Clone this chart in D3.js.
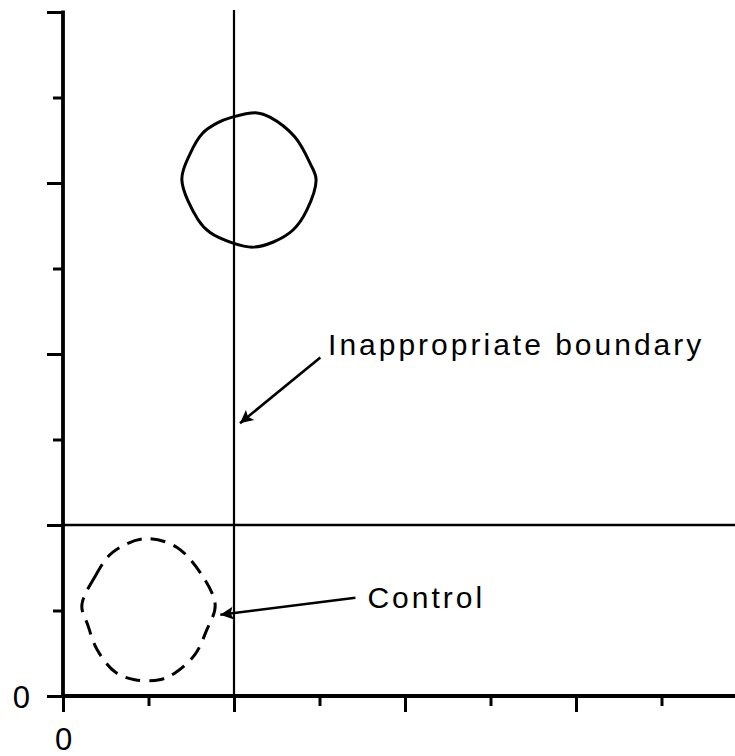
<!DOCTYPE html>
<html>
<head>
<meta charset="utf-8">
<script src="https://cdn.jsdelivr.net/npm/d3@7"></script>
<style>
  body { margin: 0; background: #fff; }
  svg { display: block; }
</style>
</head>
<body>
<svg id="chart" width="735" height="756"></svg>
<script>
// axis ticks (data units), every other one is a long tick
const xTicks = [0, 1, 2, 3, 4, 5, 6, 7];
const yTicks = [0, 1, 2, 3, 4, 5, 6, 7, 8];
const tickLabels = ["0"];

// boundary lines
const boundaryX = 2;
const boundaryY = 2;

// upper (solid) group outline
const upperX = [1.39, 1.49, 1.63, 1.80, 1.98, 2.27, 2.42, 2.71, 2.89, 2.96, 2.85, 2.69, 2.46, 2.22, 1.98, 1.72, 1.58];
const upperY = [6.04, 6.35, 6.58, 6.70, 6.77, 6.82, 6.77, 6.54, 6.23, 6.04, 5.68, 5.45, 5.31, 5.25, 5.30, 5.42, 5.57];

// control (dashed) outline
const controlX = [0.22, 0.37, 0.58, 0.96, 1.33, 1.64, 1.78, 1.68, 1.54, 1.31, 1.13, 0.84, 0.61, 0.40, 0.29];
const controlY = [1.06, 1.39, 1.68, 1.84, 1.74, 1.39, 1.06, 0.77, 0.48, 0.27, 0.19, 0.19, 0.28, 0.54, 0.83];

// annotations: label position, arrow tail, arrow tip
const notes = [
  { text: "Inappropriate boundary", x: 3.10, y: 3.99, from: [3.01, 3.96], to: [2.07, 3.19] },
  { text: "Control", x: 3.56, y: 1.03, from: [3.42, 1.15], to: [1.84, 0.95] }
];

const svg = d3.select("#chart");
const plotLeft = 63, plotBottom = 696, plotTop = 12, plotRight = 735;
const unit = (plotBottom - plotTop) / 8;

const xScale = d3.scaleLinear().domain([0, (plotRight - plotLeft) / unit]).range([plotLeft, plotRight]);
const yScale = d3.scaleLinear().domain([0, 8]).range([plotBottom, plotTop]);

const font = "'Liberation Sans', Arial, sans-serif";

// reference lines
svg.append("line")
  .attr("x1", xScale(boundaryX)).attr("x2", xScale(boundaryX))
  .attr("y1", yScale(8) - 2).attr("y2", plotBottom)
  .attr("stroke", "#000").attr("stroke-width", 2.2);

svg.append("line")
  .attr("x1", plotLeft).attr("x2", plotRight)
  .attr("y1", yScale(boundaryY)).attr("y2", yScale(boundaryY))
  .attr("stroke", "#000").attr("stroke-width", 2.6);

// outlines
const outline = d3.line()
  .x(d => xScale(d[0]))
  .y(d => yScale(d[1]))
  .curve(d3.curveCatmullRomClosed.alpha(0.5));

svg.append("path")
  .datum(d3.zip(upperX, upperY))
  .attr("d", outline)
  .attr("fill", "none")
  .attr("stroke", "#000")
  .attr("stroke-width", 3)
  .attr("stroke-linejoin", "round");

svg.append("path")
  .datum(d3.zip(controlX, controlY))
  .attr("d", outline)
  .attr("fill", "none")
  .attr("stroke", "#000")
  .attr("stroke-width", 3)
  .attr("stroke-dasharray", "15,9");

// axes
const xAxis = svg.append("g")
  .attr("transform", `translate(0,${plotBottom})`)
  .call(d3.axisBottom(xScale).tickValues(xTicks).tickSize(15)
    .tickFormat(d => (d === 0 ? tickLabels[0] : "")));

xAxis.select(".domain").remove();
xAxis.selectAll(".tick line")
  .attr("stroke-width", 3)
  .attr("y2", (d, i) => (i % 2 === 0 ? 16 : 10));
xAxis.selectAll(".tick text")
  .attr("y", 54).attr("dy", 0)
  .attr("font-family", font).attr("font-size", 31).attr("fill", "#000");

const yAxis = svg.append("g")
  .attr("transform", `translate(${plotLeft},0)`)
  .call(d3.axisLeft(yScale).tickValues(yTicks).tickSize(16)
    .tickFormat(d => (d === 0 ? tickLabels[0] : "")));

yAxis.select(".domain").remove();
yAxis.selectAll(".tick line")
  .attr("stroke-width", 3)
  .attr("x2", (d, i) => (i % 2 === 0 ? -16 : -10));
yAxis.selectAll(".tick text")
  .attr("x", -33).attr("dy", "0.36em")
  .attr("font-family", font).attr("font-size", 31).attr("fill", "#000");

// axis lines
svg.append("line")
  .attr("x1", plotLeft).attr("x2", plotRight)
  .attr("y1", plotBottom).attr("y2", plotBottom)
  .attr("stroke", "#000").attr("stroke-width", 4);

svg.append("line")
  .attr("x1", plotLeft).attr("x2", plotLeft)
  .attr("y1", plotTop - 1.5).attr("y2", plotBottom + 2)
  .attr("stroke", "#000").attr("stroke-width", 3.8);

// arrows + labels
svg.append("defs").append("marker")
  .attr("id", "head")
  .attr("viewBox", "0 0 10 10")
  .attr("refX", 10).attr("refY", 5)
  .attr("markerWidth", 19).attr("markerHeight", 13)
  .attr("markerUnits", "userSpaceOnUse")
  .attr("orient", "auto")
  .append("path")
  .attr("d", "M0,0 L10,5 L0,10 L2,5 Z")
  .attr("fill", "#000");

notes.forEach(n => {
  svg.append("line")
    .attr("x1", xScale(n.from[0])).attr("y1", yScale(n.from[1]))
    .attr("x2", xScale(n.to[0])).attr("y2", yScale(n.to[1]))
    .attr("stroke", "#000").attr("stroke-width", 2.6)
    .attr("marker-end", "url(#head)");

  svg.append("text")
    .attr("x", xScale(n.x)).attr("y", yScale(n.y))
    .attr("font-family", font).attr("font-size", 30)
    .attr("letter-spacing", 3)
    .attr("fill", "#000")
    .text(n.text);
});
</script>
</body>
</html>
